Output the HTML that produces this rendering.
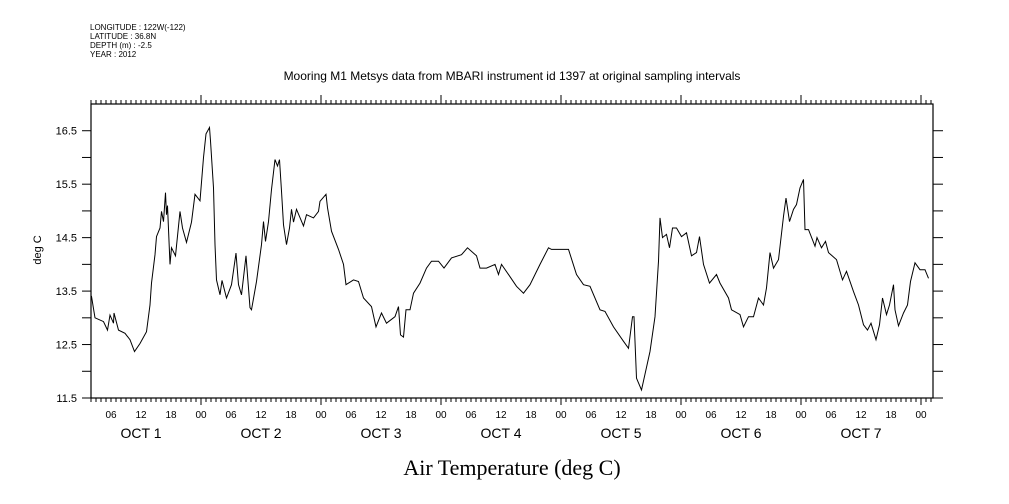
<!DOCTYPE html>
<html><head><meta charset="utf-8"><style>
body{margin:0;background:#fff}
svg{display:block;font-family:"Liberation Sans",sans-serif}
</style></head><body>
<svg id="chart" width="1009" height="504" viewBox="0 0 1009 504">
<g font-size="8" fill="#000">
<text x="90" y="30">LONGITUDE : 122W(-122)</text>
<text x="90" y="39">LATITUDE : 36.8N</text>
<text x="90" y="48">DEPTH (m) : -2.5</text>
<text x="90" y="57">YEAR : 2012</text>
</g>
<text x="512" y="80" text-anchor="middle" font-size="12">Mooring M1 Metsys data from MBARI instrument id 1397 at original sampling intervals</text>
<text x="512" y="475" text-anchor="middle" font-size="22" font-family="Liberation Serif,serif">Air Temperature (deg C)</text>
<text transform="translate(41,250) rotate(-90)" text-anchor="middle" font-size="11">deg C</text>
<rect x="91" y="104" width="842" height="294" fill="none" stroke="#000" stroke-width="1.2"/>
<g id="axes"></g>
<path id="line" fill="none" stroke="#000" stroke-width="1"/>
</svg>
<script>
const hours=[2,2.1,2.8,4.5,5.3,5.8,6.5,6.6,7.5,8.8,9.8,10.7,11.8,13.1,13.8,14.1,14.8,15.1,15.8,16.1,16.5,16.9,17.1,17.3,17.8,18.1,18.9,19.8,20.3,21.1,22.1,22.8,23.8,24.5,25.0,25.7,25.9,26.5,26.8,27.1,27.8,28.2,29.1,30.1,31.0,31.5,32.1,33.0,33.8,34.1,35.1,36.1,36.5,36.9,37.5,38.1,38.8,39.3,39.7,40.1,40.5,41.1,41.7,42.1,42.5,43.1,44.5,45.1,46.5,47.5,47.8,49.0,49.3,50.1,51.5,52.5,53.0,54.5,55.5,56.5,58.1,59.0,60.1,61.1,62.8,63.5,63.9,64.5,65.0,65.8,66.5,67.8,69.1,70.1,71.5,72.6,74.1,76.1,77.3,79.1,79.8,81.1,82.8,83.5,84.1,85.8,87.1,88.5,89.8,91.8,93.5,94.1,97.5,99.1,100.5,101.8,103.8,104.8,106.5,108.5,109.5,110.3,110.6,111.1,112.1,113.8,114.8,115.5,115.8,116.3,117.1,117.7,118.3,119.1,120.1,121.1,122.1,123.1,123.7,124.5,125.7,127.1,127.8,129.5,130.1,131.8,132.5,133.5,134.5,135.5,136.5,137.1,137.8,138.5,139.5,140.5,141.0,141.7,142.5,143.1,143.8,144.5,144.8,145.5,146.8,147.2,148.1,148.9,149.5,151.1,152.3,153.1,154.5,155.5,156.5,157.3,158.0,159.0,159.7,160.3,161.1,161.7,162.5,162.8,163.5,164.5,165.3,165.9,166.8,167.8,168.8,169.5];
const temps=[13.4,13.4,13.0,12.93,12.77,13.05,12.9,13.09,12.77,12.71,12.59,12.37,12.52,12.74,13.24,13.65,14.18,14.52,14.68,14.99,14.8,15.34,14.93,15.1,14.0,14.31,14.16,14.99,14.68,14.41,14.79,15.31,15.19,16.0,16.44,16.56,16.31,15.43,14.37,13.71,13.43,13.7,13.37,13.62,14.21,13.62,13.43,14.16,13.19,13.15,13.68,14.37,14.8,14.43,14.8,15.4,15.96,15.84,15.96,15.37,14.74,14.37,14.68,15.03,14.79,15.03,14.72,14.93,14.87,14.99,15.18,15.31,15.06,14.62,14.28,14.0,13.62,13.71,13.68,13.37,13.21,12.83,13.09,12.9,13.02,13.21,12.68,12.64,13.15,13.15,13.46,13.65,13.93,14.06,14.06,13.93,14.12,14.18,14.31,14.16,13.93,13.93,14.0,13.81,14.0,13.77,13.59,13.46,13.62,14.0,14.31,14.28,14.28,13.81,13.62,13.59,13.15,13.12,12.83,12.56,12.43,13.02,13.02,11.87,11.65,12.37,13.02,14.06,14.87,14.5,14.56,14.31,14.68,14.68,14.52,14.59,14.16,14.22,14.52,14.0,13.65,13.81,13.65,13.37,13.15,13.06,12.83,13.02,13.02,13.37,13.24,13.56,14.22,13.93,14.09,14.9,15.24,14.8,15.03,15.12,15.43,15.59,14.65,14.65,14.34,14.5,14.31,14.43,14.22,14.09,13.71,13.87,13.49,13.24,12.87,12.77,12.9,12.59,12.87,13.37,13.06,13.24,13.62,13.15,12.85,13.09,13.24,13.68,14.03,13.9,13.9,13.74];
const yTicks=[11.5,12,12.5,13,13.5,14,14.5,15,15.5,16,16.5];
const yLabels=["11.5","12.5","13.5","14.5","15.5","16.5"];
const hourLabels=["06","12","18","00"];
const dayLabels=["OCT  1","OCT  2","OCT  3","OCT  4","OCT  5","OCT  6","OCT  7"];
const X0=91,X1=933,Y0=398,Y1=104,H0=2,H1=170.4,V0=11.5,V1=17.0;
function sx(h){return X0+(h-H0)/(H1-H0)*(X1-X0);}
function sy(v){return Y0-(v-V0)/(V1-V0)*(Y0-Y1);}
const NS="http://www.w3.org/2000/svg";
const ax=document.getElementById('axes');
function ln(x1,y1,x2,y2,name){const l=document.createElementNS(NS,'line');l.setAttribute('x1',x1);l.setAttribute('y1',y1);l.setAttribute('x2',x2);l.setAttribute('y2',y2);l.setAttribute('stroke','#000');


ax.appendChild(l);}
function tx(x,y,s,size,anchor,name){const t=document.createElementNS(NS,'text');t.setAttribute('x',x);t.setAttribute('y',y);t.setAttribute('font-size',size);t.setAttribute('text-anchor',anchor);t.textContent=s;


ax.appendChild(t);}
yTicks.forEach(v=>{const y=sy(v);ln(X0-9,y,X0,y,'y-tick');ln(X1,y,X1+10,y,'y-tick-right');});
yLabels.forEach(s=>tx(X0-14,sy(+s)+4,s,11,'end','y-tick-label'));
for(let h=Math.ceil(H0);h<=H1;h++){const x=sx(h);const major=h%24===0;
ln(x,Y1,x,Y1-(major?9:4),'x-tick-top');ln(x,Y0,x,Y0+(major?7:4),'x-tick-bottom');
if(h%6===0){tx(x,Y0+20,hourLabels[(h/6-1)%4],10,'middle','hour-label');}}
dayLabels.forEach((s,i)=>tx(sx(i*24+12),Y0+40,s,14,'middle','day-label'));
let d='';hours.forEach((h,i)=>{d+=(i?'L':'M')+sx(h).toFixed(1)+','+sy(temps[i]).toFixed(1);});
document.getElementById('line').setAttribute('d',d);
</script>
</body></html>
